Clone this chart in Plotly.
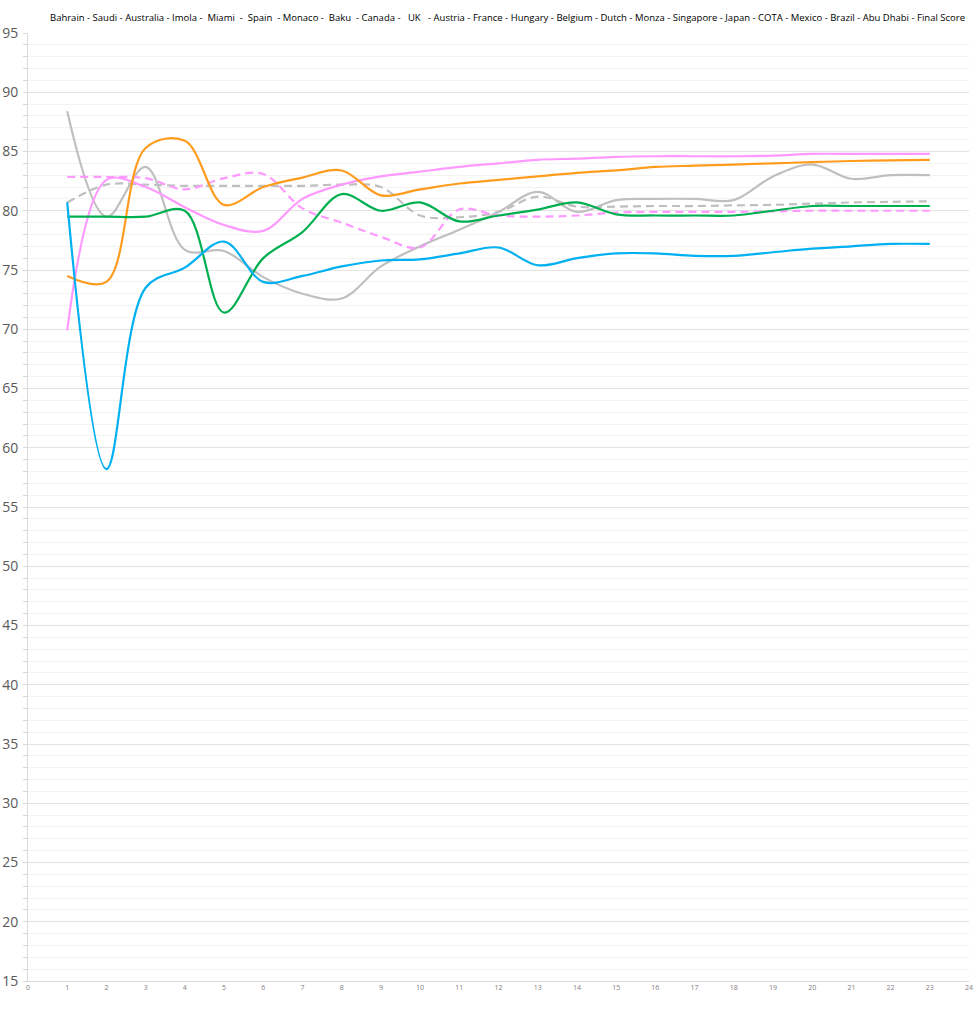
import plotly.graph_objects as go

races = list(range(1, 24))

grey_solid = [88.4, 79.5, 83.7, 76.7, 76.6, 74.4, 73.0, 72.6, 75.3, 77.0, 78.4, 79.9, 81.6, 79.9, 80.9, 81.0, 81.0, 80.9, 82.9, 83.9, 82.7, 83.0, 83.0]
grey_dashed = [80.7, 82.2, 82.2, 82.1, 82.1, 82.1, 82.1, 82.2, 82.0, 79.6, 79.45, 79.9, 81.2, 80.35, 80.35, 80.4, 80.4, 80.45, 80.5, 80.6, 80.7, 80.75, 80.8]
pink_dashed = [82.85, 82.85, 82.75, 81.8, 82.75, 83.1, 80.2, 79.0, 77.8, 76.9, 80.1, 79.6, 79.5, 79.6, 79.85, 79.9, 79.9, 79.9, 79.95, 80.0, 80.0, 80.0, 80.0]
pink_solid = [69.9, 82.6, 82.0, 80.3, 78.8, 78.3, 81.0, 82.2, 82.9, 83.3, 83.7, 84.0, 84.3, 84.4, 84.55, 84.6, 84.6, 84.6, 84.65, 84.8, 84.8, 84.8, 84.8]
orange = [74.5, 74.0, 85.3, 85.9, 80.5, 82.0, 82.8, 83.4, 81.3, 81.8, 82.3, 82.6, 82.9, 83.2, 83.4, 83.7, 83.8, 83.9, 84.0, 84.1, 84.2, 84.25, 84.3]
green = [79.5, 79.5, 79.5, 80.0, 71.4, 76.0, 78.2, 81.4, 80.0, 80.7, 79.1, 79.6, 80.1, 80.7, 79.7, 79.6, 79.6, 79.6, 80.0, 80.4, 80.4, 80.4, 80.4]
blue = [80.7, 58.2, 73.5, 75.2, 77.4, 74.0, 74.5, 75.3, 75.8, 75.9, 76.4, 76.9, 75.4, 76.0, 76.4, 76.4, 76.2, 76.2, 76.5, 76.8, 77.0, 77.2, 77.2]

title_parts = ["Bahrain", "Saudi", "Australia", "Imola", "\u00a0Miami\u00a0", "\u00a0Spain\u00a0", "Monaco", "\u00a0Baku\u00a0", "Canada",
               "\u00a0\u00a0UK\u00a0\u00a0", "Austria", "France", "Hungary", "Belgium", "Dutch", "Monza", "Singapore", "Japan",
               "COTA", "Mexico", "Brazil", "Abu Dhabi", "Final Score"]
title_text = " - ".join(title_parts)

series = [
    (grey_solid, "#BFBFBF", "solid"),
    (grey_dashed, "#BFBFBF", "8px,5px"),
    (pink_dashed, "#FF99FF", "8px,5px"),
    (pink_solid, "#FF99FF", "solid"),
    (orange, "#FF9C1E", "solid"),
    (green, "#00B050", "solid"),
    (blue, "#00B0F0", "solid"),
]

fig = go.Figure()
for vals, color, dash in series:
    fig.add_trace(go.Scatter(
        x=races, y=vals, mode="lines",
        line=dict(color=color, width=2.2, dash=dash, shape="spline", smoothing=1),
        showlegend=False, hoverinfo="skip"))

fig.update_layout(
    width=978, height=1023,
    margin=dict(l=28, r=9, t=33, b=42, autoexpand=False),
    paper_bgcolor="white", plot_bgcolor="white",
    title=dict(text=title_text, x=50/978, xanchor="left", xref="container",
               y=1 - 18/1023, yanchor="middle", yref="container",
               font=dict(family="Open Sans", size=9.5, color="#000000")),
    showlegend=False,
)
fig.update_xaxes(range=[0, 24], dtick=1, tick0=0, showgrid=False, zeroline=False, automargin=False,
                 showline=True, linecolor="#D9D9D9", linewidth=1,
                 ticks="", tickfont=dict(family="Open Sans", size=7, color="#808080"))
fig.update_yaxes(range=[15, 95], dtick=5, tick0=15, showgrid=True, gridcolor="#E3E3E3", gridwidth=1,
                 zeroline=False, showline=True, linecolor="#D9D9D9", linewidth=1, automargin=False,
                 ticks="outside", ticklen=4, tickcolor="#D9D9D9",
                 ticklabelstandoff=2,
                 tickfont=dict(family="Open Sans", size=14, color="#595959"),
                 minor=dict(dtick=1, showgrid=True, gridcolor="#F3F3F3", ticks="outside", ticklen=4, tickcolor="#D9D9D9"))

fig.write_html("out.html", config={"displayModeBar": False},
               post_script="document.body.style.margin='0';")
